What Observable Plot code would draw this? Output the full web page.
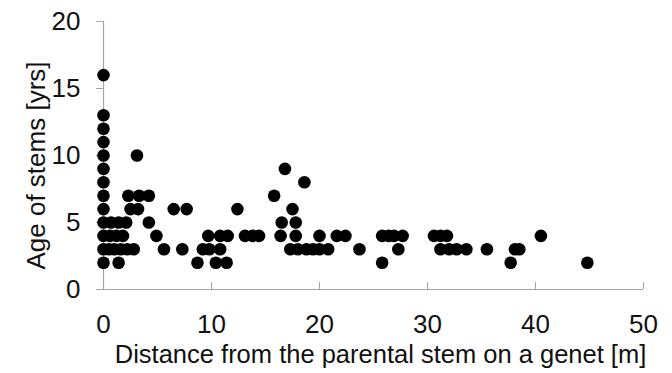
<!DOCTYPE html>
<html>
<head>
<meta charset="utf-8">
<script src="https://cdn.jsdelivr.net/npm/d3@7"></script>
<script src="https://cdn.jsdelivr.net/npm/@observablehq/plot@0.6"></script>
<style>
  html, body { margin: 0; padding: 0; background: #fff; }
  #chart { width: 672px; height: 373px; }
</style>
</head>
<body>
<div id="chart"></div>
<script>
// Distances [m] of stems, grouped by stem age [yrs]
const ageLevels = [2, 3, 4, 5, 6, 7, 8, 9, 10, 11, 12, 13, 16];
const dist_age2  = [0, 1.4, 8.7, 10.4, 11.4, 25.8, 37.7, 44.8];
const dist_age3  = [0, 0.5, 1.0, 1.6, 2.2, 2.8, 5.6, 7.3, 9.2, 9.8, 10.8, 17.3, 18.0, 18.8, 19.4, 20.0, 20.8, 23.7, 27.3, 31.2, 32.0, 32.7, 33.6, 35.5, 38.1, 38.5];
const dist_age4  = [0, 0.6, 1.2, 1.8, 4.9, 9.7, 10.8, 11.5, 13.1, 13.8, 14.4, 16.4, 17.8, 20.0, 21.6, 22.4, 25.8, 26.4, 26.9, 27.7, 30.6, 31.2, 31.8, 40.5];
const dist_age5  = [0, 0.7, 1.4, 2.1, 4.2, 16.5, 17.8];
const dist_age6  = [0, 2.5, 3.2, 6.5, 7.7, 12.4, 17.5];
const dist_age7  = [0, 2.3, 3.3, 4.2, 15.8];
const dist_age8  = [0, 18.6];
const dist_age9  = [0, 16.8];
const dist_age10 = [0, 3.1];
const dist_age11 = [0];
const dist_age12 = [0];
const dist_age13 = [0];
const dist_age16 = [0];

const xTicks = [0, 10, 20, 30, 40, 50];
const yTicks = [0, 5, 10, 15, 20];
const xLabel = "Distance from the parental stem on a genet [m]";
const yLabel = "Age of stems [yrs]";

const distLists = [dist_age2, dist_age3, dist_age4, dist_age5, dist_age6, dist_age7,
  dist_age8, dist_age9, dist_age10, dist_age11, dist_age12, dist_age13, dist_age16];
const data = [];
ageLevels.forEach((a, i) => distLists[i].forEach(d => data.push({distance: d, age: a})));

const axisColor = "#a6a6a6";
const fs = 26;
const chart = Plot.plot({
  width: 672,
  height: 373,
  marginLeft: 103,
  marginRight: 29,
  marginTop: 21,
  marginBottom: 84,
  style: {fontFamily: "'Liberation Sans', Arial, sans-serif", fontSize: fs + "px", color: "#111", background: "#fff"},
  x: {domain: [0, 50]},
  y: {domain: [0, 20]},
  marks: [
    Plot.ruleY([0], {stroke: axisColor, strokeWidth: 1.2}),
    Plot.ruleX([0], {stroke: axisColor, strokeWidth: 1.2}),
    Plot.axisY({ticks: yTicks, tickSize: 7, tickPadding: 16, stroke: axisColor, fontSize: fs, label: null}),
    Plot.axisX({ticks: xTicks, tickSize: -7, tickPadding: 32, stroke: axisColor, fontSize: fs, label: null}),
    Plot.dot(data, {x: "distance", y: "age", r: 6.3, fill: "#000", stroke: "none"}),
    Plot.text([xLabel], {frameAnchor: "bottom", dy: 73, dx: 7, fontSize: 25.5, fill: "#111"}),
    Plot.text([yLabel], {frameAnchor: "left", textAnchor: "middle", lineAnchor: "middle", dx: -67, dy: 10, rotate: -90, fontSize: fs, fill: "#111"})
  ]
});
document.getElementById("chart").appendChild(chart);
</script>
</body>
</html>
